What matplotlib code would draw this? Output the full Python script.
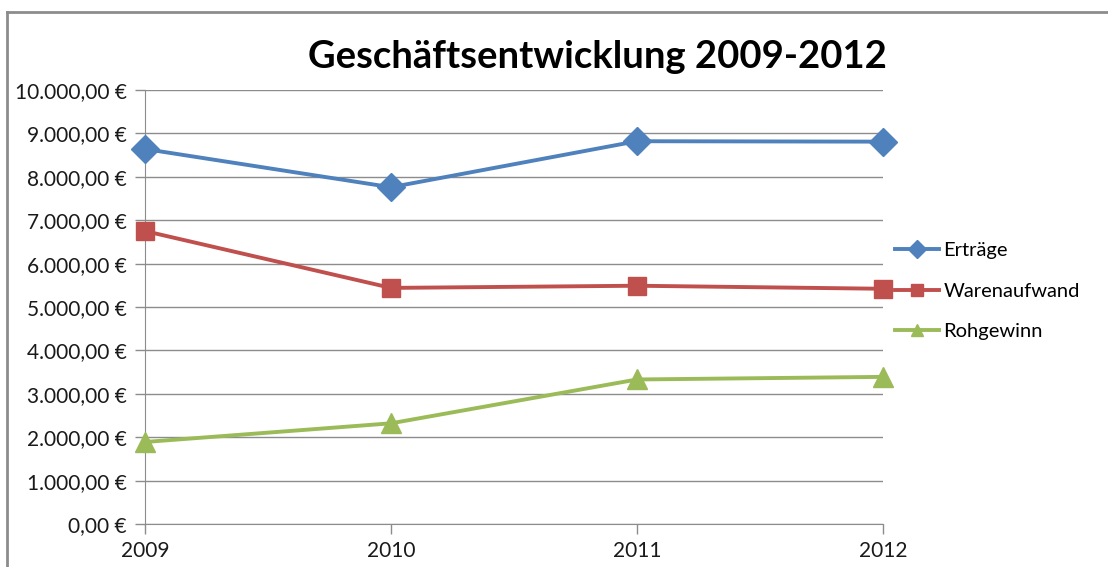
import matplotlib
matplotlib.use("Agg")
import matplotlib.pyplot as plt
from matplotlib.ticker import FuncFormatter, MultipleLocator
from matplotlib.lines import Line2D

plt.rcParams["font.family"] = ["Lato", "DejaVu Sans"]

years = ["2009", "2010", "2011", "2012"]
ertraege = [8640, 7760, 8820, 8810]
warenaufwand = [6750, 5440, 5490, 5420]
rohgewinn = [1890, 2320, 3330, 3390]

series = [
    ("Erträge", ertraege, "#4F81BD", "D", 14),
    ("Warenaufwand", warenaufwand, "#C0504D", "s", 12.5),
    ("Rohgewinn", rohgewinn, "#9BBB59", "^", 14),
]


def euro(v, pos):
    s = f"{v:,.2f}".replace(",", "X").replace(".", ",").replace("X", ".")
    return s + " €"


fig = plt.figure(figsize=(11.08, 5.67), dpi=100)
ax = fig.add_axes([145 / 1108, 1 - 524 / 567, (883 - 145) / 1108, (524 - 90) / 567])

x = list(range(len(years)))
for name, vals, color, marker, ms in series:
    ax.plot(x, vals, color=color, lw=2.8, marker=marker, ms=ms,
            label=name, solid_joinstyle="round", zorder=3, clip_on=False)

ax.set_xlim(0, len(years) - 1)
ax.set_ylim(0, 10000)
ax.yaxis.set_major_locator(MultipleLocator(1000))
ax.yaxis.set_major_formatter(FuncFormatter(euro))
ax.set_xticks(x)
ax.set_xticklabels(years)

grid_c = "#8C8C8C"
ax.grid(axis="y", color=grid_c, lw=1)
ax.set_axisbelow(True)
for side in ["top", "right"]:
    ax.spines[side].set_visible(False)
ax.spines["left"].set_color(grid_c)
ax.spines["bottom"].set_color(grid_c)
ax.tick_params(axis="both", colors=grid_c, labelcolor="#1a1a1a",
               labelsize=15, length=7, width=1)
ax.tick_params(axis="y", pad=6)
ax.tick_params(axis="x", pad=5)

fig.text((308 + 887) / 2 / 1108, 1 - 57 / 567, "Geschäftsentwicklung 2009-2012",
         ha="center", va="center", fontsize=27.5, fontweight="bold")

handles = [Line2D([], [], color=c, lw=2.8, marker=m, ms=ms * 0.65)
           for _, _, c, m, ms in series]
fig.legend(handles, [s[0] for s in series], loc="center left",
           bbox_to_anchor=(877 / 1108, 1 - 291 / 567), frameon=False,
           fontsize=14.5, handlelength=2.2, handletextpad=0.2, labelspacing=1.15)

# chart frame
fig.add_artist(Line2D([7 / 1108, 7 / 1108], [0, 1 - 12 / 567],
                      transform=fig.transFigure, color="#8C8C8C", lw=2))
fig.add_artist(Line2D([7 / 1108, 1], [1 - 12 / 567, 1 - 12 / 567],
                      transform=fig.transFigure, color="#8C8C8C", lw=2))

fig.savefig("out.png", dpi=100)
